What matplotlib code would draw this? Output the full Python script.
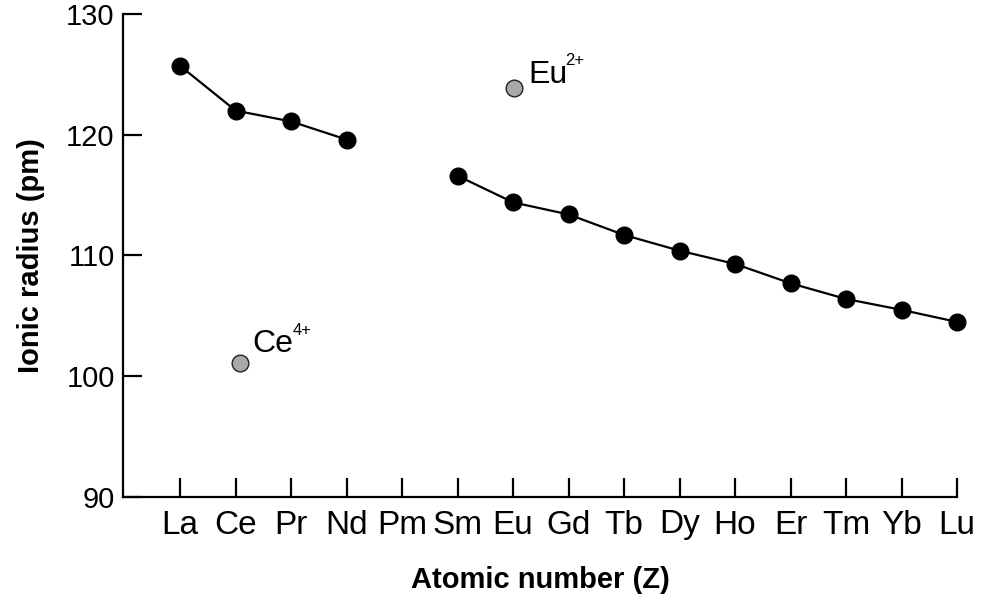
import matplotlib.pyplot as plt
import numpy as np

plt.rcParams['font.family'] = ['Liberation Sans', 'DejaVu Sans']

# lanthanides, Pm has no point
elements = ['La', 'Ce', 'Pr', 'Nd', 'Pm', 'Sm', 'Eu', 'Gd', 'Tb', 'Dy', 'Ho', 'Er', 'Tm', 'Yb', 'Lu']
radius_light = [125.7, 122.0, 121.1, 119.6]          # La..Nd (3+)
radius_heavy = [116.6, 114.4, 113.4, 111.7, 110.4, 109.3, 107.7, 106.4, 105.5, 104.5]  # Sm..Lu (3+)
ce4_radius = 101.1
eu2_radius = 123.9

x = np.arange(len(elements))

fig = plt.figure(figsize=(9.83, 5.97), dpi=100)
ax = fig.add_axes([123 / 983, 1 - 497 / 597, (957 - 123) / 983, (497 - 14) / 597])

style = dict(color='black', lw=1.6, marker='o', ms=12, mfc='black', mec='black', clip_on=False, zorder=3)
ax.plot(x[:4], radius_light, **style)
ax.plot(x[5:], radius_heavy, **style)

grey = dict(marker='o', ms=12, mfc='#aba6a8', mec='#222222', mew=1.0, ls='none', clip_on=False, zorder=3)
ce_pt = (x[1] + 0.08, ce4_radius)
eu_pt = (x[6] + 0.02, eu2_radius)
ax.plot(*ce_pt, **grey)
ax.plot(*eu_pt, **grey)

# ion labels with superscript charges
ax.annotate('Ce', xy=ce_pt, xytext=(9, 8), textcoords='offset points', fontsize=23, va='baseline')
ax.annotate('4+', xy=ce_pt, xytext=(37.5, 20), textcoords='offset points', fontsize=12, va='baseline')
ax.annotate('Eu', xy=eu_pt, xytext=(10, 3.5), textcoords='offset points', fontsize=23, va='baseline')
ax.annotate('2+', xy=eu_pt, xytext=(37, 16), textcoords='offset points', fontsize=12, va='baseline')

ax.set_xlim(-1.03, x[-1])
ax.set_ylim(90, 130)
ax.set_xticks(x)
ax.set_xticklabels(elements)
ax.set_yticks([90, 100, 110, 120, 130])

ax.spines['top'].set_visible(False)
ax.spines['right'].set_visible(False)
for s in ['left', 'bottom']:
    ax.spines[s].set_linewidth(1.6)
ax.tick_params(direction='in', length=14, width=1.6)
ax.tick_params(axis='x', labelsize=24, pad=9)
ax.tick_params(axis='y', labelsize=21, pad=6)

ax.set_xlabel('Atomic number (Z)', fontsize=21, fontweight='bold', labelpad=18)
ax.set_ylabel('Ionic radius (pm)', fontsize=21, fontweight='bold', labelpad=15)

fig.savefig('out.png', dpi=100)
